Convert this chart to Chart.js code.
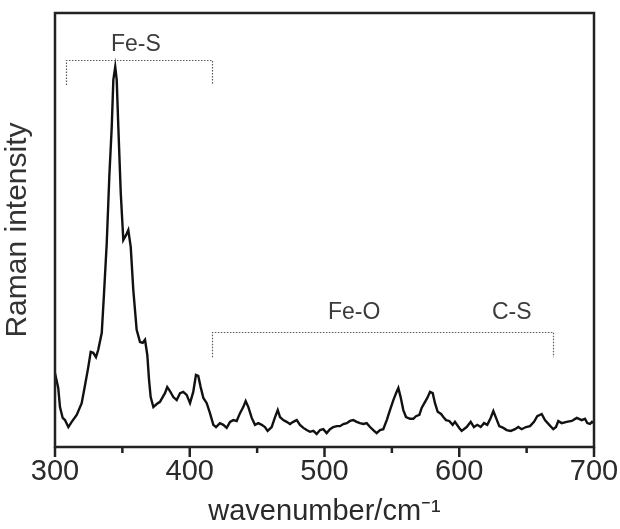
<!DOCTYPE html>
<html>
<head>
<meta charset="utf-8">
<script src="https://cdn.jsdelivr.net/npm/chart.js@4/dist/chart.umd.min.js"></script>
<style>
    html, body { margin: 0; padding: 0; background: #fff; }
    #wrap { width: 620px; height: 529px; position: relative; }
</style>
</head>
<body>
<div id="wrap"><canvas id="ramanChart"></canvas></div>
<script>
// Raman spectrum
const wavenumber = [
    300, 302.4, 303.7, 305.7, 307.4, 309.9, 312.4, 316.1, 319.8, 322.3,
    324.7, 326.5, 328.4, 330.4, 332.1, 334.7, 336.4, 338.4, 340.3, 342.1,
    343.3, 344.7, 345.8, 347.0, 348.8, 350.7, 352.7, 354.4, 356.2, 358.1,
    360.6, 363.1, 365.1, 366.8, 368.5, 369.8, 371.0, 373.0, 375.5, 377.9,
    379.9, 381.6, 383.3, 385.3, 387.8, 390.3, 392.8, 395.2, 397.7, 400.2,
    402.6, 404.6, 406.3, 408.1, 410.1, 412.6, 415.0, 417.5, 419.5, 422.4,
    424.9, 427.4, 429.9, 432.3, 434.8, 437.3, 439.7, 441.5, 443.5, 446.0,
    448.4, 450.9, 453.4, 455.8, 457.8, 460.8, 463.3, 465.3, 467.0, 469.4,
    471.9, 474.4, 476.8, 479.4, 481.8, 484.3, 486.8, 489.2, 491.7, 494.2,
    496.7, 499.1, 501.6, 504.1, 506.5, 509.1, 511.5, 514.0, 516.5, 518.9,
    521.4, 523.9, 526.3, 528.8, 531.3, 533.8, 536.2, 538.7, 541.2, 543.6,
    546.2, 548.6, 551.1, 553.1, 554.8, 556.5, 558.5, 560.5, 563.5, 565.9,
    567.9, 570.4, 572.1, 574.1, 576.3, 578.3, 580.3, 582.0, 584.0, 586.5,
    588.2, 590.2, 592.6, 595.1, 596.8, 600.0, 601.8, 605.5, 608.5, 610.9,
    613.4, 615.9, 618.4, 620.8, 623.3, 625.3, 627.3, 629.7, 632.7, 635.2,
    638.2, 641.4, 643.8, 646.3, 649.5, 652.5, 655.5, 657.9, 661.2, 663.6,
    666.8, 669.8, 671.8, 673.5, 676.0, 679.7, 683.5, 687.2, 690.9, 693.3,
    695.0, 697.0, 698.5, 700
];
const intensity = [
    17.0, 13.6, 9.2, 6.7, 6.2, 4.6, 5.8, 7.4, 10.1, 14.3,
    18.4, 21.9, 21.7, 20.7, 22.4, 26.3, 35.5, 47.0, 62.2, 73.7,
    84.6, 87.6, 84.6, 73.7, 58.5, 47.7, 48.8, 50.0, 46.1, 36.2,
    27.0, 24.2, 24.0, 24.7, 21.2, 15.4, 11.5, 9.2, 9.9, 10.4,
    11.5, 12.4, 13.8, 12.9, 11.5, 10.8, 12.4, 12.7, 12.0, 10.1,
    12.7, 16.6, 16.4, 13.8, 11.3, 10.1, 7.8, 5.1, 4.6, 5.5,
    5.1, 4.4, 5.8, 6.2, 6.0, 7.8, 9.2, 10.6, 9.2, 6.7,
    5.1, 5.5, 5.1, 4.6, 3.7, 4.6, 6.9, 8.5, 6.9, 6.2,
    5.8, 5.3, 5.8, 6.2, 5.1, 4.4, 3.9, 3.5, 3.7, 3.0,
    3.9, 4.1, 3.2, 4.1, 4.6, 4.8, 4.8, 5.3, 5.5, 6.0,
    6.2, 5.8, 5.5, 5.3, 5.5, 4.6, 3.9, 3.2, 3.9, 4.1,
    6.2, 8.5, 10.8, 12.4, 13.6, 11.5, 8.5, 6.9, 6.5, 6.5,
    7.1, 7.4, 9.0, 10.1, 11.3, 12.7, 12.4, 10.1, 8.1, 7.6,
    6.9, 6.2, 6.0, 5.1, 5.8, 4.4, 3.7, 4.6, 5.8, 4.6,
    5.1, 4.6, 5.5, 5.1, 6.7, 8.3, 6.7, 4.8, 4.4, 3.9,
    3.7, 4.1, 4.6, 4.1, 4.6, 4.8, 5.8, 7.1, 7.6, 6.2,
    5.1, 4.1, 4.6, 6.0, 5.5, 5.8, 6.0, 6.7, 6.2, 6.5,
    5.5, 5.3, 5.8, 5.5
];
const xTicks = [300, 400, 500, 600, 700];

// band assignments: bracket span (wavenumber), bracket height, drop, labels
const bandLabels = ['Fe-S', 'Fe-O', 'C-S'];
const bandLabelX = [360, 522, 639];
const bandLabelY = [92.6, 30.9, 30.9];
const bracketFrom = [308, 416.5];
const bracketTo = [416.5, 669.6];
const bracketY = [89.2, 26.5];
const bracketDrop = [83.4, 20.7];

const inkColour = '#222222';
const labelColour = '#3c3c3c';
const fontFamily = '"Liberation Sans", Arial, sans-serif';

const framePlugin = {
    id: 'frame',
    afterDraw(chart) {
        const ctx = chart.ctx;
        const area = chart.chartArea;
        const x = chart.scales.x;
        const y = chart.scales.y;

        ctx.save();
        // frame round the plot
        ctx.strokeStyle = inkColour;
        ctx.lineWidth = 2.5;
        ctx.strokeRect(area.left, area.top, area.right - area.left, area.bottom - area.top);

        // major and minor ticks, pointing out below the axis
        for (let v = x.min; v <= x.max; v += 50) {
            const px = x.getPixelForValue(v);
            const len = (v % 100 === 0) ? 10 : 6;
            ctx.beginPath();
            ctx.moveTo(px, area.bottom);
            ctx.lineTo(px, area.bottom + len);
            ctx.stroke();
        }

        // dotted brackets
        ctx.strokeStyle = '#5a5a5a';
        ctx.lineWidth = 1.2;
        ctx.setLineDash([1.5, 1.5]);
        for (let i = 0; i < bracketFrom.length; i++) {
            const x0 = Math.round(x.getPixelForValue(bracketFrom[i])) + 0.5;
            const x1 = Math.round(x.getPixelForValue(bracketTo[i])) + 0.5;
            const yTop = Math.round(y.getPixelForValue(bracketY[i])) + 0.5;
            const yBot = y.getPixelForValue(bracketDrop[i]);
            ctx.beginPath();
            ctx.moveTo(x0, yBot);
            ctx.lineTo(x0, yTop);
            ctx.lineTo(x1, yTop);
            ctx.lineTo(x1, yBot);
            ctx.stroke();
        }
        ctx.setLineDash([]);

        // band labels
        ctx.fillStyle = labelColour;
        ctx.font = '23px ' + fontFamily;
        ctx.textAlign = 'center';
        ctx.textBaseline = 'middle';
        bandLabels.forEach((label, i) => {
            ctx.fillText(label, x.getPixelForValue(bandLabelX[i]), y.getPixelForValue(bandLabelY[i]));
        });
        ctx.restore();
    }
};

const chart = new Chart(
    document.getElementById('ramanChart').getContext('2d'),
    {
        type: 'line',
        data: {
            datasets: [{
                data: wavenumber.map((w, i) => ({ x: w, y: intensity[i] })),
                borderColor: '#111111',
                borderWidth: 2.4,
                pointRadius: 0,
                tension: 0,
                fill: false
            }]
        },
        options: {
            responsive: true,
            maintainAspectRatio: false,
            animation: false,
            layout: {
                padding: { top: 13, right: 26, left: 0, bottom: 0 }
            },
            scales: {
                x: {
                    type: 'linear',
                    min: 300,
                    max: 700,
                    afterBuildTicks: (scale) => {
                        scale.ticks = xTicks.map(v => ({ value: v }));
                    },
                    afterFit: (scale) => {
                        scale.height = 82;
                        scale.paddingLeft = 0;
                        scale.paddingRight = 0;
                    },
                    border: { display: false },
                    grid: { display: false },
                    ticks: {
                        color: '#2a2a2a',
                        font: { family: fontFamily, size: 29 },
                        padding: 0,
                        maxRotation: 0
                    },
                    title: {
                        display: true,
                        text: 'wavenumber/cm\u207B\u00B9',
                        color: '#2a2a2a',
                        font: { family: fontFamily, size: 29 },
                        padding: { top: 0, bottom: 0 }
                    }
                },
                y: {
                    min: 0,
                    max: 100,
                    afterFit: (scale) => { scale.width = 55; },
                    border: { display: false },
                    grid: { display: false },
                    ticks: { display: false },
                    title: {
                        display: true,
                        text: 'Raman intensity',
                        color: '#333333',
                        font: { family: fontFamily, size: 30 },
                        padding: { top: 0, bottom: 8 }
                    }
                }
            },
            plugins: {
                legend: { display: false },
                title: { display: false },
                tooltip: { enabled: false }
            }
        },
        plugins: [framePlugin]
    });
</script>
</body>
</html>
